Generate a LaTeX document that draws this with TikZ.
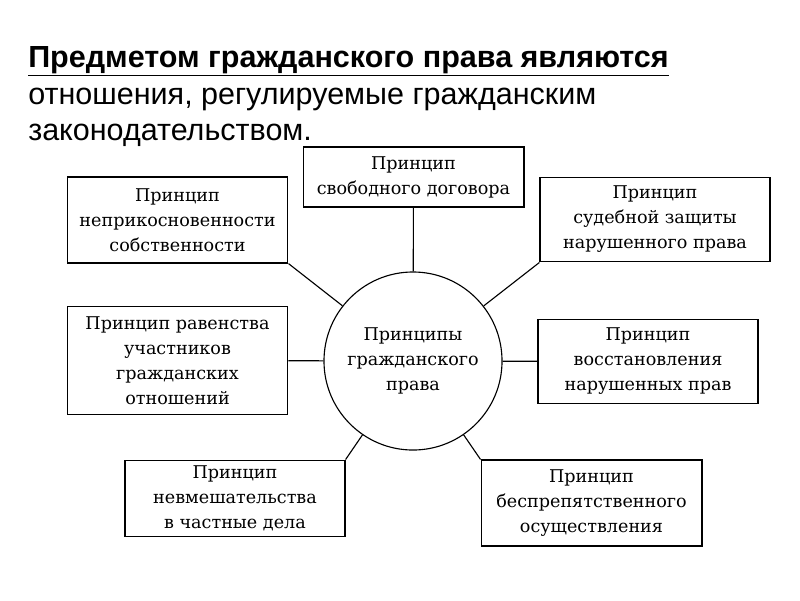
\documentclass[tikz,border=0pt]{standalone}
\usepackage{fontspec}
\setmainfont{DejaVu Serif}
\newfontfamily\titlefont{Liberation Sans}
\usepackage{tikz}
\tikzset{box/.style={draw,line width=.8pt,rectangle,inner sep=0pt,align=center,font=\fontsize{12.5}{17.8}\selectfont},
  hub/.style={draw,line width=.8pt,circle,inner sep=0pt,minimum size=4.45cm,align=center,font=\fontsize{12.5}{17.8}\selectfont}}

\begin{document}
\begin{tikzpicture}[x=.025cm,y=-.025cm]
      \useasboundingbox (0,0) rectangle (800,600);
      \node[anchor=north west,align=left,inner sep=0pt,font=\titlefont\fontsize{21.7}{26.2}\selectfont] (title) at (28,46)
        {\underline{\textbf{Предметом гражданского права являются}}\\
         отношения, регулируемые гражданским\\
         законодательством.};
      \node[hub] (c) at (413,361) {Принципы\\гражданского\\права};
      \node[box,minimum width=5.52cm,minimum height=1.5cm] (top) at (413.5,177) {Принцип\\свободного договора};
      \node[box,minimum width=5.52cm,minimum height=2.15cm] (tl) at (177.5,220) {Принцип\\неприкосновенности\\собственности};
      \node[box,minimum width=5.75cm,minimum height=2.12cm] (tr) at (655,219.5) {Принцип\\судебной защиты\\нарушенного права};
      \node[box,minimum width=5.52cm,minimum height=2.72cm] (ml) at (177.5,360.5) {Принцип равенства\\участников\\гражданских\\отношений};
      \node[box,minimum width=5.5cm,minimum height=2.12cm] (mr) at (648,361.5) {Принцип\\восстановления\\нарушенных прав};
      \node[box,minimum width=5.5cm,minimum height=1.92cm] (bl) at (235,498.5) {Принцип\\невмешательства\\в частные дела};
      \node[box,minimum width=5.52cm,minimum height=2.15cm] (br) at (591.5,503) {Принцип\\беспрепятственного\\осуществления};
      \draw[line width=.8pt] (c) edge (top) edge (tl.south east) edge (tr.south west)
      edge (ml) edge (mr) edge (bl.north east) edge (br.north west);
    \end{tikzpicture}
\end{document}
